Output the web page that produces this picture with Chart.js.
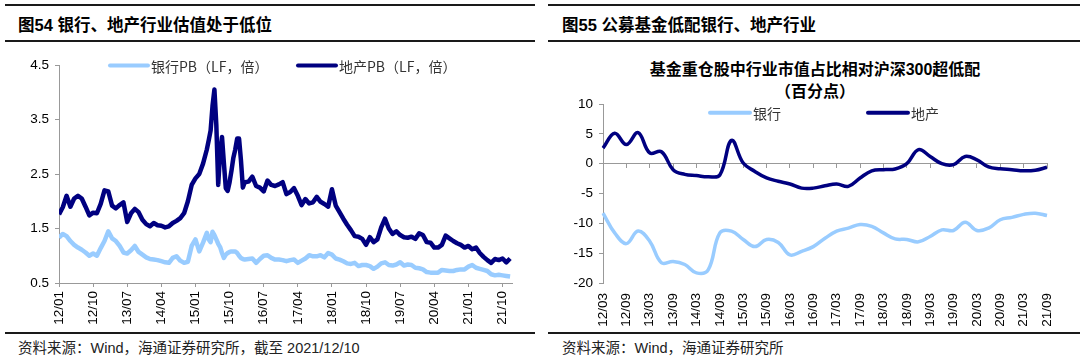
<!DOCTYPE html>
<html><head><meta charset="utf-8">
<script src="https://cdn.jsdelivr.net/npm/chart.js@4.4.1/dist/chart.umd.min.js"></script>
<style>
body{margin:0;background:#fff;width:1080px;height:356px;position:relative;overflow:hidden;font-family:'Liberation Sans','Noto Sans CJK SC',sans-serif;}
.rule{position:absolute;height:2px;background:#1a1a1a;}
.title{position:absolute;font-weight:bold;font-size:16.5px;line-height:20px;color:#000;white-space:nowrap;}
.sub{position:absolute;font-weight:bold;font-size:16px;line-height:22px;color:#000;text-align:center;white-space:nowrap;}
.src{position:absolute;font-size:14.5px;line-height:18px;color:#222;white-space:nowrap;}
canvas{position:absolute;}
</style></head><body>
<div class="rule" style="left:5px;top:4px;width:530px"></div>
<div class="rule" style="left:5px;top:40px;width:530px"></div>
<div class="rule" style="left:5px;top:332px;width:530px"></div>
<div class="rule" style="left:548px;top:4px;width:532px"></div>
<div class="rule" style="left:548px;top:40px;width:532px"></div>
<div class="rule" style="left:548px;top:332px;width:532px"></div>
<div class="title" style="left:18px;top:15px">图54 银行、地产行业估值处于低位</div>
<div class="title" style="left:562px;top:15px">图55 公募基金低配银行、地产行业</div>
<div class="sub" style="left:615px;top:59px;width:400px">基金重仓股中行业市值占比相对沪深300超低配<br>（百分点）</div>
<div class="src" style="left:18px;top:339px">资料来源：Wind，海通证券研究所，截至 2021/12/10</div>
<div class="src" style="left:562px;top:339px">资料来源：Wind，海通证券研究所</div>
<canvas id="c1" width="540" height="285" style="left:0;top:45px"></canvas>
<canvas id="c2" width="540" height="285" style="left:540px;top:45px"></canvas>
<script>
// ---------- Left chart data (PB, LF) ----------
const dates = [
 '12/01','12/02','12/03','12/04','12/05','12/06','12/07','12/08','12/09','12/10','12/11','12/12',
 '13/01','13/02','13/03','13/04','13/05','13/06','13/07','13/08','13/09','13/10','13/11','13/12',
 '14/01','14/02','14/03','14/04','14/05','14/06','14/07','14/08','14/09','14/10','14/11','14/12',
 '15/01','15/02','15/03','15/04','15/04/16','15/05','15/05/16','15/06','15/06/16','15/07','15/07/16','15/08','15/08/16','15/09','15/09/16','15/10','15/10/16','15/11','15/11/16','15/12','15/12/16',
 '16/01','16/01/16','16/02','16/03','16/04','16/05','16/06','16/07','16/08','16/09','16/10','16/11','16/12',
 '17/01','17/02','17/03','17/04','17/05','17/06','17/07','17/08','17/09','17/10','17/11','17/12',
 '18/01','18/02','18/03','18/04','18/05','18/06','18/07','18/08','18/09','18/10','18/11','18/12',
 '19/01','19/02','19/03','19/04','19/05','19/06','19/07','19/08','19/09','19/10','19/11','19/12',
 '20/01','20/02','20/03','20/04','20/05','20/06','20/07','20/08','20/09','20/10','20/11','20/12',
 '21/01','21/02','21/03','21/04','21/05','21/06','21/07','21/08','21/09','21/10','21/11','21/12'
];
const bankPB = [
 1.33,1.40,1.36,1.27,1.20,1.15,1.11,1.06,1.00,1.04,1.00,1.14,
 1.27,1.45,1.32,1.27,1.18,1.06,1.04,1.10,1.18,1.07,1.02,0.97,
 0.94,0.93,0.92,0.90,0.88,0.87,0.96,0.99,0.91,0.87,0.89,1.18,
 1.30,1.08,1.24,1.42,1.30,1.25,1.44,1.38,1.30,1.22,1.16,1.05,0.96,1.02,1.05,1.07,1.08,1.08,1.08,1.05,1.00,
 0.96,0.94,0.93,0.94,0.95,0.87,0.94,1.00,1.01,0.96,0.93,0.93,0.92,
 0.90,0.92,0.93,0.87,0.91,0.95,1.01,0.99,0.99,1.01,0.97,1.05,
 1.02,0.95,0.93,0.90,0.86,0.85,0.87,0.81,0.83,0.83,0.81,0.76,
 0.80,0.86,0.88,0.83,0.82,0.84,0.88,0.82,0.84,0.83,0.78,0.77,
 0.75,0.70,0.69,0.69,0.69,0.74,0.73,0.72,0.72,0.74,0.75,0.75,
 0.80,0.83,0.78,0.76,0.74,0.72,0.66,0.64,0.65,0.64,0.63,0.62
];
const estatePB = [
 1.76,1.89,2.10,1.90,2.05,2.10,2.05,1.90,1.74,1.79,1.78,1.95,
 2.20,2.18,1.92,1.87,1.93,1.98,1.62,1.78,1.86,1.80,1.66,1.58,
 1.54,1.60,1.56,1.55,1.52,1.54,1.60,1.64,1.69,1.78,2.00,2.30,
 2.42,2.50,2.69,2.95,3.12,3.30,3.75,4.05,3.40,2.30,2.90,3.18,2.70,2.24,2.19,2.35,2.56,2.80,2.95,3.15,3.15,
 2.75,2.25,2.35,2.36,2.45,2.28,2.25,2.18,2.38,2.30,2.28,2.31,2.35,
 2.13,2.17,2.24,2.10,1.93,2.04,1.96,1.98,2.08,1.99,1.95,1.90,
 2.22,1.92,1.80,1.68,1.57,1.47,1.36,1.35,1.31,1.20,1.34,1.25,
 1.30,1.52,1.68,1.50,1.40,1.45,1.38,1.34,1.33,1.35,1.31,1.41,
 1.38,1.25,1.24,1.15,1.15,1.20,1.37,1.32,1.27,1.23,1.20,1.15,
 1.18,1.12,1.15,1.05,0.98,0.92,0.87,0.94,0.92,0.95,0.88,0.95
];
const leftXTicks = ['12/01','12/10','13/07','14/04','15/01','15/10','16/07','17/04','18/01','18/10','19/07','20/04','21/01','21/10'];
const leftYTicks = [0.5,1.5,2.5,3.5,4.5];

// ---------- Right chart data (percentage points) ----------
const quarters = [
 '12/03','12/06','12/09','12/12','13/03','13/06','13/09','13/12','14/03','14/06','14/09','14/12',
 '15/03','15/06','15/09','15/12','16/03','16/06','16/09','16/12','17/03','17/06','17/09','17/12',
 '18/03','18/06','18/09','18/12','19/03','19/06','19/09','19/12','20/03','20/06','20/09','20/12',
 '21/03','21/06','21/09'
];
const bankOver = [-8.3,-11.6,-13.4,-11.3,-13.0,-16.6,-16.4,-16.9,-18.3,-17.8,-11.6,-11.3,-12.7,-13.9,-12.7,-13.2,-15.3,-14.7,-13.9,-12.5,-11.3,-10.8,-10.2,-10.5,-11.6,-12.6,-12.7,-13.1,-12.2,-11.1,-11.2,-9.8,-11.2,-10.8,-9.4,-9.0,-8.5,-8.3,-8.7];
const estateOver = [2.6,5.1,3.2,5.2,1.8,2.0,-1.0,-1.8,-2.0,-2.2,-1.9,3.9,0.1,-1.3,-2.4,-2.95,-3.4,-4.1,-4.1,-3.7,-3.4,-3.8,-2.4,-1.2,-1.0,-0.9,0.0,2.35,1.2,0.0,-0.15,1.2,0.65,-0.55,-0.85,-1.0,-1.2,-1.1,-0.6];

const LIGHT = '#99CCFF', DARK = '#000080';
const numFont = {family:"'Liberation Sans', Arial, sans-serif", size:13.5};
const cjk = "'Noto Sans CJK SC', sans-serif";

function dateToPos(s){
  const p = s.split('/');
  return (Number(p[0]) - 12) * 12 + Number(p[1]) - 1 + (p[2] ? 0.5 : 0);
}

const lineLegend = {
  id:'lineLegend',
  afterDraw(chart, args, o){
    const ctx = chart.ctx;
    ctx.save();
    o.items.forEach((x, i) => {
      const ds = chart.data.datasets[i];
      ctx.strokeStyle = ds.borderColor; ctx.lineWidth = o.lineWidth; ctx.lineCap = 'round';
      ctx.beginPath(); ctx.moveTo(x, o.y); ctx.lineTo(x + o.len, o.y); ctx.stroke();
      ctx.fillStyle = '#333'; ctx.font = o.font; ctx.textBaseline = 'middle'; ctx.textAlign = 'left';
      ctx.fillText(ds.label, x + o.len + 3, o.y + 1);
    });
    ctx.restore();
  }
};

new Chart(document.getElementById('c1'), {
  type:'line',
  data:{datasets:[
    {label:'银行PB（LF，倍）', data: dates.map((d,i)=>({x:dateToPos(d), y:bankPB[i]})), borderColor:LIGHT, backgroundColor:LIGHT, borderWidth:4.5, pointRadius:0, tension:0, borderJoinStyle:'round'},
    {label:'地产PB（LF，倍）', data: dates.map((d,i)=>({x:dateToPos(d), y:estatePB[i]})), borderColor:DARK, backgroundColor:DARK, borderWidth:4.5, pointRadius:0, tension:0, borderJoinStyle:'round'}
  ]},
  options:{
    animation:false, responsive:false, events:[],
    layout:{padding:{top:20, right:28, left:0, bottom:0}},
    plugins:{legend:{display:false}, tooltip:{enabled:false},
      lineLegend:{items:[110, 298], y:20.5, len:38, lineWidth:4, font:"14px "+cjk}},
    scales:{
      x:{type:'linear', min:0, max:119.5,
        afterBuildTicks:s=>{ s.ticks = leftXTicks.map((l,i)=>({value:i*9})); },
        afterFit:s=>{ s.height = 47; },
        ticks:{callback:v=>leftXTicks[Math.round(v/9)], minRotation:90, maxRotation:90, color:'#000', font:numFont, padding:4},
        grid:{drawOnChartArea:false, tickLength:4, color:'#999'},
        border:{color:'#999'}},
      y:{min:0.5, max:4.5,
        afterBuildTicks:s=>{ s.ticks = leftYTicks.map(v=>({value:v})); },
        afterFit:s=>{ s.width = 59; },
        ticks:{callback:v=>v.toFixed(1), color:'#000', font:numFont, padding:6},
        grid:{drawOnChartArea:false, tickLength:4, color:'#999'},
        border:{color:'#999'}}
    }
  },
  plugins:[lineLegend]
});

new Chart(document.getElementById('c2'), {
  type:'line',
  data:{labels:quarters, datasets:[
    {label:'银行', data:bankOver, borderColor:LIGHT, backgroundColor:LIGHT, borderWidth:3.5, pointRadius:0, tension:0.4},
    {label:'地产', data:estateOver, borderColor:DARK, backgroundColor:DARK, borderWidth:3.5, pointRadius:0, tension:0.4}
  ]},
  options:{
    animation:false, responsive:false, events:[],
    layout:{padding:{top:59, right:33, left:0, bottom:0}},
    plugins:{legend:{display:false}, tooltip:{enabled:false},
      lineLegend:{items:[170, 328], y:67.7, len:40, lineWidth:4, font:"14px "+cjk}},
    scales:{
      x:{type:'category', position:'bottom', offset:false,
        afterFit:s=>{ s.height = 47; },
        ticks:{autoSkip:false, callback:(v,i)=> i%2===0 ? quarters[i] : '', minRotation:90, maxRotation:90, color:'#000', font:numFont, padding:2},
        grid:{display:false}, border:{display:false}},
      x0:{type:'category', position:{y:0}, offset:false,
        ticks:{display:false},
        grid:{drawOnChartArea:false, tickLength:4,
          color:c=> c.index%2===0 ? '#999' : 'rgba(0,0,0,0)',
          tickColor:c=> c.index%2===0 ? '#999' : 'rgba(0,0,0,0)'},
        border:{color:'#999'}},
      y:{min:-20, max:10,
        afterFit:s=>{ s.width = 63; },
        ticks:{stepSize:5, color:'#000', font:numFont, padding:6},
        grid:{drawOnChartArea:false, tickLength:4, color:'#999'},
        border:{color:'#999'}}
    }
  },
  plugins:[lineLegend]
});
</script>
</body></html>
